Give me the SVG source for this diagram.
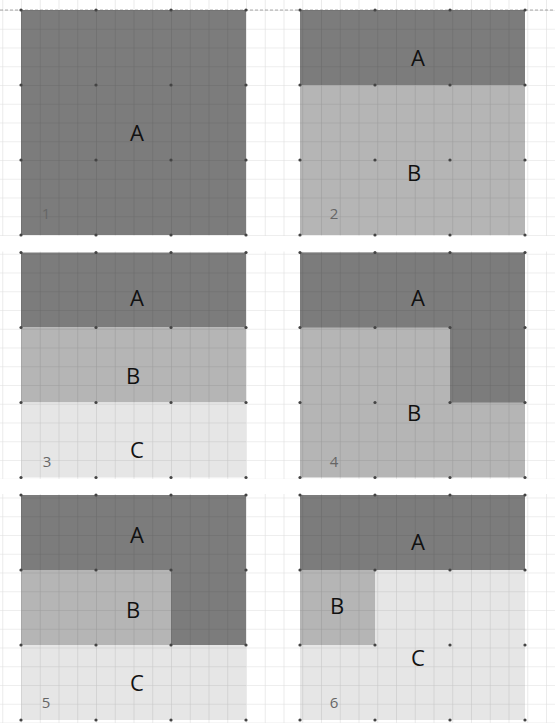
<svg xmlns="http://www.w3.org/2000/svg" width="555" height="723" viewBox="0 0 555 723">
<defs>
<style>
.a{fill:#7c7c7c}
.b{fill:#b5b5b5}
.c{fill:#e6e6e6}
.lbl{font-family:"Open Sans","Liberation Sans",sans-serif;font-size:22px;fill:#111;text-anchor:middle}
.num{font-family:"Open Sans","Liberation Sans",sans-serif;font-size:15px;fill:#666;text-anchor:middle}
.dot{fill:#444}
</style>
<pattern id="grid" x="21" y="10" width="18.75" height="18.75" patternUnits="userSpaceOnUse">
<path d="M0 0H18.75M0 0V18.75" fill="none" stroke="#000" stroke-opacity="0.13" stroke-width="1.2"/>
</pattern>
<g id="dots4">
<circle cx="0" cy="0" r="1.6"/><circle cx="75" cy="0" r="1.6"/><circle cx="150" cy="0" r="1.6"/><circle cx="225" cy="0" r="1.6"/>
<circle cx="0" cy="75" r="1.6"/><circle cx="75" cy="75" r="1.6"/><circle cx="150" cy="75" r="1.6"/><circle cx="225" cy="75" r="1.6"/>
<circle cx="0" cy="150" r="1.6"/><circle cx="75" cy="150" r="1.6"/><circle cx="150" cy="150" r="1.6"/><circle cx="225" cy="150" r="1.6"/>
<circle cx="0" cy="225" r="1.6"/><circle cx="75" cy="225" r="1.6"/><circle cx="150" cy="225" r="1.6"/><circle cx="225" cy="225" r="1.6"/>
</g>
</defs>
<rect width="555" height="723" fill="#fff"/>
<line x1="0" y1="10" x2="555" y2="10" stroke="#aaa" stroke-width="1" stroke-dasharray="3,2"/>

<g id="panel1">
<rect class="a" x="21" y="10" width="225" height="225"/>
</g>
<g id="panel2">
<rect class="a" x="300" y="10" width="225" height="75"/>
<rect class="b" x="300" y="85" width="225" height="150"/>
</g>
<g id="panel3">
<rect class="a" x="21" y="252.5" width="225" height="75"/>
<rect class="b" x="21" y="327.5" width="225" height="75"/>
<rect class="c" x="21" y="402.5" width="225" height="75"/>
</g>
<g id="panel4">
<rect class="b" x="300" y="252.5" width="225" height="225"/>
<path class="a" d="M300 252.5H525V402.5H450V327.5H300Z"/>
</g>
<g id="panel5">
<rect class="c" x="21" y="495" width="225" height="225"/>
<path class="a" d="M21 495H246V645H171V570H21Z"/>
<rect class="b" x="21" y="570" width="150" height="75"/>
</g>
<g id="panel6">
<rect class="c" x="300" y="495" width="225" height="225"/>
<rect class="a" x="300" y="495" width="225" height="75"/>
<rect class="b" x="300" y="570" width="75" height="75"/>
</g>

<rect width="555" height="723" fill="url(#grid)"/>
<rect x="0" y="236" width="555" height="15.5" fill="#fff"/>
<rect x="0" y="479" width="555" height="15" fill="#fff"/>

<g class="dot">
<use href="#dots4" x="21" y="10"/>
<use href="#dots4" x="300" y="10"/>
<use href="#dots4" x="21" y="252.5"/>
<use href="#dots4" x="300" y="252.5"/>
<use href="#dots4" x="21" y="495"/>
<use href="#dots4" x="300" y="495"/>
</g>

<g id="labels">
<text class="lbl" x="137" y="141">A</text>
<text class="num" x="46" y="219">1</text>
<text class="lbl" x="418" y="66">A</text>
<text class="lbl" x="414" y="181">B</text>
<text class="num" x="334" y="219">2</text>
<text class="lbl" x="137" y="306">A</text>
<text class="lbl" x="133" y="384">B</text>
<text class="lbl" x="137" y="458">C</text>
<text class="num" x="47" y="467">3</text>
<text class="lbl" x="418" y="306">A</text>
<text class="lbl" x="414" y="421">B</text>
<text class="num" x="334" y="467">4</text>
<text class="lbl" x="137" y="543">A</text>
<text class="lbl" x="133" y="618">B</text>
<text class="lbl" x="137" y="691">C</text>
<text class="num" x="46" y="708">5</text>
<text class="lbl" x="418" y="550">A</text>
<text class="lbl" x="337" y="614">B</text>
<text class="lbl" x="418" y="666">C</text>
<text class="num" x="334" y="708">6</text>
</g>
</svg>
